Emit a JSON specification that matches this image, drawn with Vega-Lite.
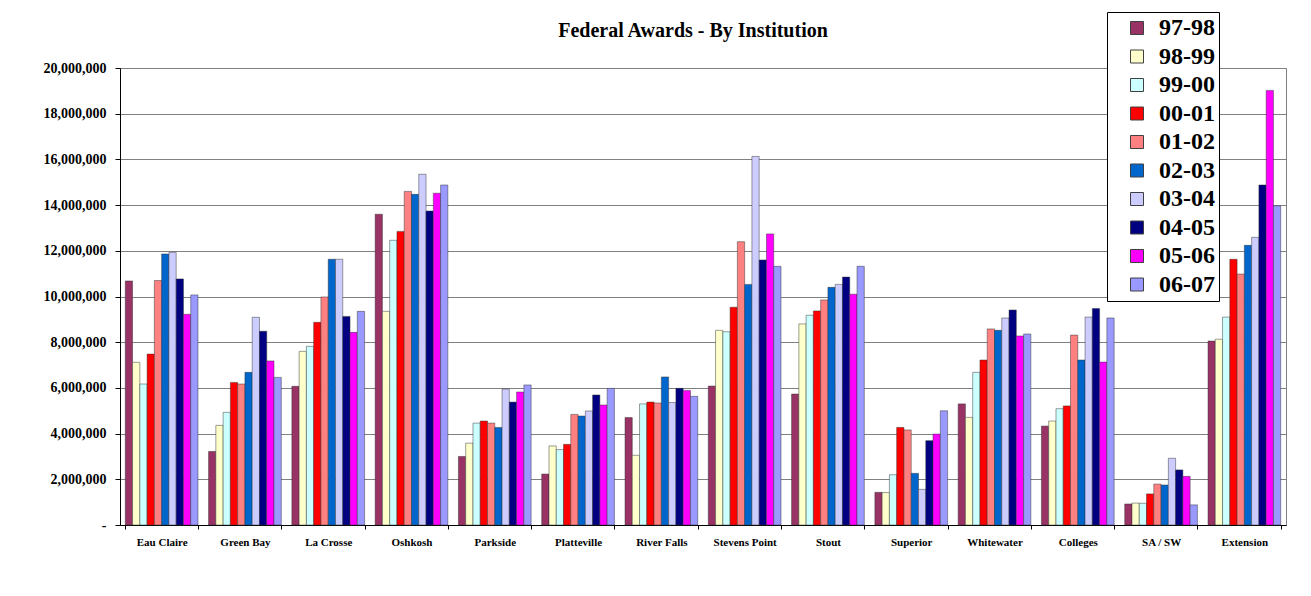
{
 "$schema": "https://vega.github.io/schema/vega-lite/v6.json",
 "width": 1166, "height": 457,
 "autosize": {"type": "none"},
 "padding": {"left": 120, "top": 68, "right": 25, "bottom": 71},
 "background": "white",
 "title": {"text": "Federal Awards - By Institution", "font": "Liberation Serif, Times New Roman, serif", "fontSize": 20, "fontWeight": "bold", "anchor": "middle", "frame": "group", "dx": -10, "offset": -29, "color": "black"},
 "data": {"values": [
  {"institution":"Eau Claire","year":"97-98","amount":10680000},{"institution":"Eau Claire","year":"98-99","amount":7120000},{"institution":"Eau Claire","year":"99-00","amount":6170000},{"institution":"Eau Claire","year":"00-01","amount":7480000},{"institution":"Eau Claire","year":"01-02","amount":10700000},{"institution":"Eau Claire","year":"02-03","amount":11860000},{"institution":"Eau Claire","year":"03-04","amount":11930000},{"institution":"Eau Claire","year":"04-05","amount":10770000},{"institution":"Eau Claire","year":"05-06","amount":9220000},{"institution":"Eau Claire","year":"06-07","amount":10070000},
  {"institution":"Green Bay","year":"97-98","amount":3220000},{"institution":"Green Bay","year":"98-99","amount":4360000},{"institution":"Green Bay","year":"99-00","amount":4930000},{"institution":"Green Bay","year":"00-01","amount":6240000},{"institution":"Green Bay","year":"01-02","amount":6170000},{"institution":"Green Bay","year":"02-03","amount":6680000},{"institution":"Green Bay","year":"03-04","amount":9090000},{"institution":"Green Bay","year":"04-05","amount":8480000},{"institution":"Green Bay","year":"05-06","amount":7180000},{"institution":"Green Bay","year":"06-07","amount":6460000},
  {"institution":"La Crosse","year":"97-98","amount":6070000},{"institution":"La Crosse","year":"98-99","amount":7600000},{"institution":"La Crosse","year":"99-00","amount":7820000},{"institution":"La Crosse","year":"00-01","amount":8870000},{"institution":"La Crosse","year":"01-02","amount":9980000},{"institution":"La Crosse","year":"02-03","amount":11630000},{"institution":"La Crosse","year":"03-04","amount":11630000},{"institution":"La Crosse","year":"04-05","amount":9130000},{"institution":"La Crosse","year":"05-06","amount":8430000},{"institution":"La Crosse","year":"06-07","amount":9350000},
  {"institution":"Oshkosh","year":"97-98","amount":13600000},{"institution":"Oshkosh","year":"98-99","amount":9350000},{"institution":"Oshkosh","year":"99-00","amount":12460000},{"institution":"Oshkosh","year":"00-01","amount":12850000},{"institution":"Oshkosh","year":"01-02","amount":14600000},{"institution":"Oshkosh","year":"02-03","amount":14470000},{"institution":"Oshkosh","year":"03-04","amount":15350000},{"institution":"Oshkosh","year":"04-05","amount":13740000},{"institution":"Oshkosh","year":"05-06","amount":14520000},{"institution":"Oshkosh","year":"06-07","amount":14880000},
  {"institution":"Parkside","year":"97-98","amount":3000000},{"institution":"Parkside","year":"98-99","amount":3580000},{"institution":"Parkside","year":"99-00","amount":4460000},{"institution":"Parkside","year":"00-01","amount":4550000},{"institution":"Parkside","year":"01-02","amount":4460000},{"institution":"Parkside","year":"02-03","amount":4270000},{"institution":"Parkside","year":"03-04","amount":5950000},{"institution":"Parkside","year":"04-05","amount":5380000},{"institution":"Parkside","year":"05-06","amount":5820000},{"institution":"Parkside","year":"06-07","amount":6130000},
  {"institution":"Platteville","year":"97-98","amount":2230000},{"institution":"Platteville","year":"98-99","amount":3460000},{"institution":"Platteville","year":"99-00","amount":3300000},{"institution":"Platteville","year":"00-01","amount":3530000},{"institution":"Platteville","year":"01-02","amount":4840000},{"institution":"Platteville","year":"02-03","amount":4770000},{"institution":"Platteville","year":"03-04","amount":4990000},{"institution":"Platteville","year":"04-05","amount":5690000},{"institution":"Platteville","year":"05-06","amount":5250000},{"institution":"Platteville","year":"06-07","amount":5980000},
  {"institution":"River Falls","year":"97-98","amount":4700000},{"institution":"River Falls","year":"98-99","amount":3050000},{"institution":"River Falls","year":"99-00","amount":5300000},{"institution":"River Falls","year":"00-01","amount":5380000},{"institution":"River Falls","year":"01-02","amount":5340000},{"institution":"River Falls","year":"02-03","amount":6480000},{"institution":"River Falls","year":"03-04","amount":5360000},{"institution":"River Falls","year":"04-05","amount":5980000},{"institution":"River Falls","year":"05-06","amount":5890000},{"institution":"River Falls","year":"06-07","amount":5630000},
  {"institution":"Stevens Point","year":"97-98","amount":6080000},{"institution":"Stevens Point","year":"98-99","amount":8520000},{"institution":"Stevens Point","year":"99-00","amount":8460000},{"institution":"Stevens Point","year":"00-01","amount":9530000},{"institution":"Stevens Point","year":"01-02","amount":12400000},{"institution":"Stevens Point","year":"02-03","amount":10530000},{"institution":"Stevens Point","year":"03-04","amount":16130000},{"institution":"Stevens Point","year":"04-05","amount":11600000},{"institution":"Stevens Point","year":"05-06","amount":12740000},{"institution":"Stevens Point","year":"06-07","amount":11320000},
  {"institution":"Stout","year":"97-98","amount":5730000},{"institution":"Stout","year":"98-99","amount":8800000},{"institution":"Stout","year":"99-00","amount":9180000},{"institution":"Stout","year":"00-01","amount":9370000},{"institution":"Stout","year":"01-02","amount":9850000},{"institution":"Stout","year":"02-03","amount":10400000},{"institution":"Stout","year":"03-04","amount":10530000},{"institution":"Stout","year":"04-05","amount":10850000},{"institution":"Stout","year":"05-06","amount":10100000},{"institution":"Stout","year":"06-07","amount":11320000},
  {"institution":"Superior","year":"97-98","amount":1430000},{"institution":"Superior","year":"98-99","amount":1420000},{"institution":"Superior","year":"99-00","amount":2200000},{"institution":"Superior","year":"00-01","amount":4270000},{"institution":"Superior","year":"01-02","amount":4160000},{"institution":"Superior","year":"02-03","amount":2260000},{"institution":"Superior","year":"03-04","amount":1560000},{"institution":"Superior","year":"04-05","amount":3690000},{"institution":"Superior","year":"05-06","amount":3980000},{"institution":"Superior","year":"06-07","amount":5000000},
  {"institution":"Whitewater","year":"97-98","amount":5300000},{"institution":"Whitewater","year":"98-99","amount":4710000},{"institution":"Whitewater","year":"99-00","amount":6680000},{"institution":"Whitewater","year":"00-01","amount":7220000},{"institution":"Whitewater","year":"01-02","amount":8580000},{"institution":"Whitewater","year":"02-03","amount":8520000},{"institution":"Whitewater","year":"03-04","amount":9060000},{"institution":"Whitewater","year":"04-05","amount":9410000},{"institution":"Whitewater","year":"05-06","amount":8270000},{"institution":"Whitewater","year":"06-07","amount":8360000},
  {"institution":"Colleges","year":"97-98","amount":4330000},{"institution":"Colleges","year":"98-99","amount":4550000},{"institution":"Colleges","year":"99-00","amount":5090000},{"institution":"Colleges","year":"00-01","amount":5210000},{"institution":"Colleges","year":"01-02","amount":8310000},{"institution":"Colleges","year":"02-03","amount":7220000},{"institution":"Colleges","year":"03-04","amount":9100000},{"institution":"Colleges","year":"04-05","amount":9470000},{"institution":"Colleges","year":"05-06","amount":7130000},{"institution":"Colleges","year":"06-07","amount":9060000},
  {"institution":"SA / SW","year":"97-98","amount":920000},{"institution":"SA / SW","year":"98-99","amount":960000},{"institution":"SA / SW","year":"99-00","amount":950000},{"institution":"SA / SW","year":"00-01","amount":1360000},{"institution":"SA / SW","year":"01-02","amount":1790000},{"institution":"SA / SW","year":"02-03","amount":1750000},{"institution":"SA / SW","year":"03-04","amount":2920000},{"institution":"SA / SW","year":"04-05","amount":2410000},{"institution":"SA / SW","year":"05-06","amount":2130000},{"institution":"SA / SW","year":"06-07","amount":880000},
  {"institution":"Extension","year":"97-98","amount":8050000},{"institution":"Extension","year":"98-99","amount":8130000},{"institution":"Extension","year":"99-00","amount":9100000},{"institution":"Extension","year":"00-01","amount":11630000},{"institution":"Extension","year":"01-02","amount":10980000},{"institution":"Extension","year":"02-03","amount":12240000},{"institution":"Extension","year":"03-04","amount":12590000},{"institution":"Extension","year":"04-05","amount":14880000},{"institution":"Extension","year":"05-06","amount":19020000},{"institution":"Extension","year":"06-07","amount":13970000}
 ]},
 "mark": {"type": "bar", "stroke": "#333333", "strokeWidth": 0.6, "strokeOpacity": 0.8},
 "encoding": {
  "x": {"field": "institution", "type": "nominal",
   "sort": ["Eau Claire","Green Bay","La Crosse","Oshkosh","Parkside","Platteville","River Falls","Stevens Point","Stout","Superior","Whitewater","Colleges","SA / SW","Extension"],
   "scale": {"paddingInner": 0.127, "paddingOuter": 0.0635},
   "axis": {"title": null, "labelAngle": 0, "tickBand": "extent", "tickSize": 4, "tickColor": "black", "domainColor": "black", "labelFont": "Liberation Serif, Times New Roman, serif", "labelFontWeight": "bold", "labelFontSize": 11, "labelColor": "black", "labelPadding": 7, "grid": false}},
  "xOffset": {"field": "year", "type": "nominal",
   "sort": ["97-98","98-99","99-00","00-01","01-02","02-03","03-04","04-05","05-06","06-07"],
   "scale": {"paddingInner": 0, "paddingOuter": 0}},
  "y": {"field": "amount", "type": "quantitative",
   "scale": {"domain": [0, 20000000], "nice": false},
   "axis": {"title": null, "values": [0,2000000,4000000,6000000,8000000,10000000,12000000,14000000,16000000,18000000,20000000],
    "labelExpr": "datum.value === 0 ? '-' : format(datum.value, ',')",
    "labelFont": "Liberation Serif, Times New Roman, serif", "labelFontWeight": "bold", "labelFontSize": 14, "labelColor": "black", "labelPadding": 9,
    "tickSize": 5, "tickColor": "black", "domainColor": "black", "gridColor": "#808080", "gridWidth": 1}},
  "color": {"field": "year", "type": "nominal",
   "scale": {"domain": ["97-98","98-99","99-00","00-01","01-02","02-03","03-04","04-05","05-06","06-07"],
    "range": ["#993366","#FFFFCC","#CCFFFF","#FF0000","#FF8080","#0066CC","#CCCCFF","#000080","#FF00FF","#9999FF"]},
   "legend": {"title": null, "orient": "none", "legendX": 987, "legendY": -56, "padding": 4, "symbolOffset": 14,
    "symbolType": "square", "symbolSize": 169, "symbolStrokeColor": "#404040", "symbolStrokeWidth": 1,
    "labelFont": "Liberation Serif, Times New Roman, serif", "labelFontWeight": "bold", "labelFontSize": 24, "labelColor": "black", "labelOffset": 10,
    "labelExpr": "datum.label + '\u00a0\u00a0'",
    "rowPadding": 4.5, "strokeColor": "black", "fillColor": "white"}}
 },
 "config": {"view": {"stroke": "#808080"}}
}
